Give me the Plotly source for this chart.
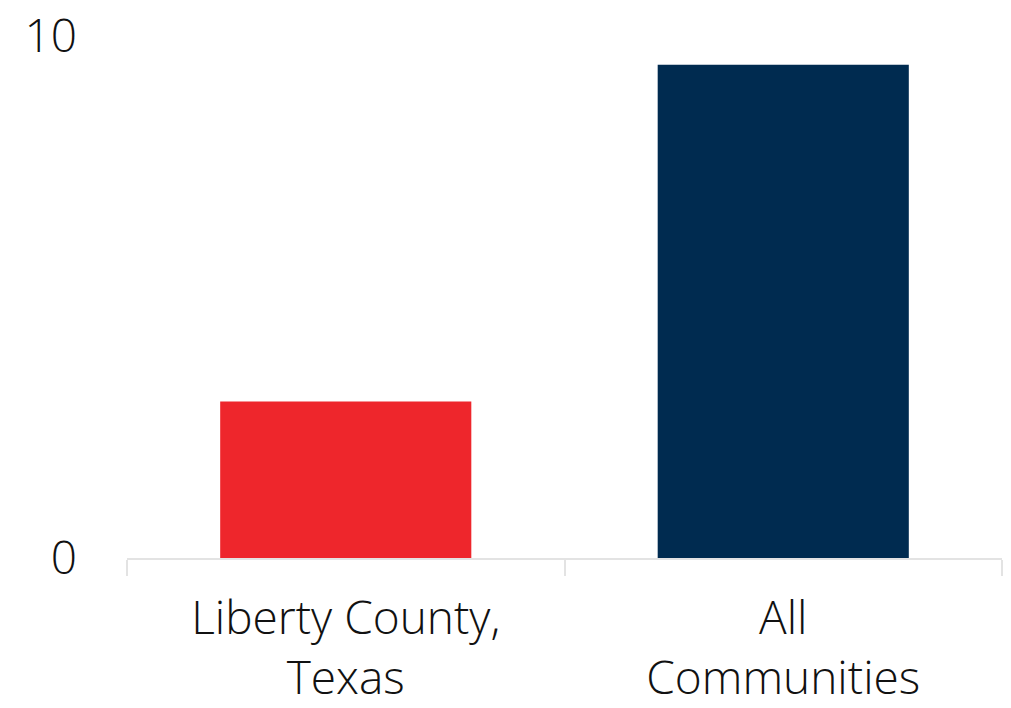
import plotly.graph_objects as go

categories = ["Liberty County,<br>Texas", "All<br>Communities"]
values = [3.0, 9.45]
colors = ["#EE262C", "#002B50"]
y_ticks = [0, 10]

fig = go.Figure(go.Bar(x=categories, y=values, marker=dict(color=colors, line=dict(width=0)), width=0.574))

fig.update_layout(
    width=1011, height=708,
    margin=dict(l=127, r=9, t=36, b=150),
    paper_bgcolor="white", plot_bgcolor="white",
    font=dict(family="Open Sans", size=46, color="#111111", weight=300),
    showlegend=False,
)
fig.update_yaxes(range=[0, 10], tickvals=y_ticks, showgrid=True, gridcolor="#E3E3E3", gridwidth=2,
                 zeroline=False, showline=False, ticks="", ticklabelstandoff=49, automargin=False)
fig.update_xaxes(showline=True, linecolor="#E3E3E3", linewidth=2, tickson="boundaries", ticks="outside",
                 ticklen=16, tickcolor="#E3E3E3", tickwidth=2, showgrid=False, ticklabelstandoff=19,
                 automargin=False)

fig.write_html("out.html", config={"displayModeBar": False},
               post_script="document.body.style.margin='0';document.body.style.overflow='hidden';")
